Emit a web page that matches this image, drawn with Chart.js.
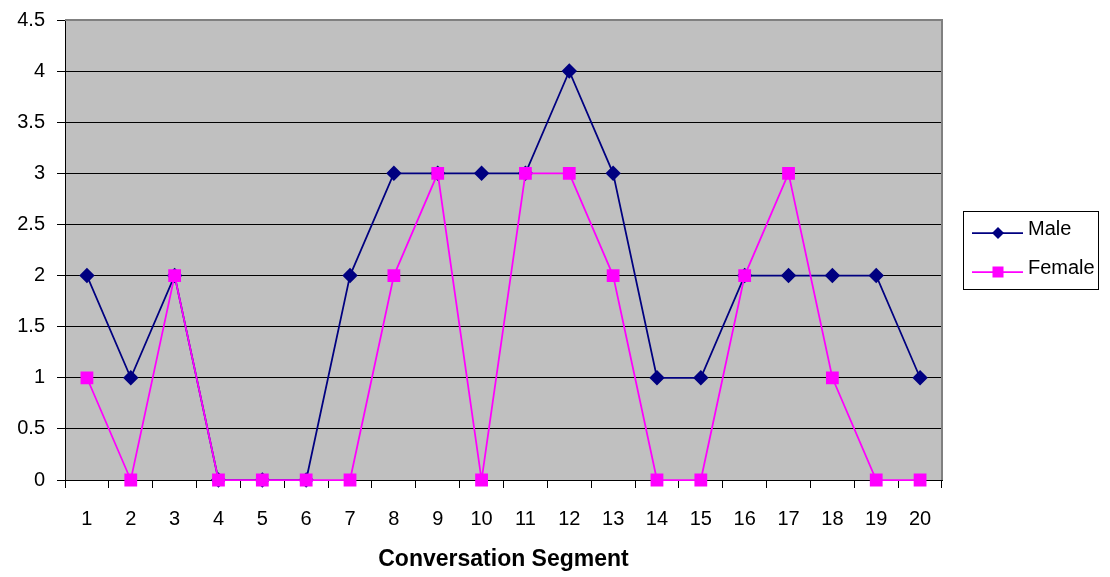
<!DOCTYPE html>
<html><head><meta charset="utf-8">
<script src="https://cdn.jsdelivr.net/npm/chart.js@4/dist/chart.umd.min.js"></script>
<style>html,body{margin:0;padding:0;background:#fff}#wrap{width:1110px;height:577px}</style>
</head><body><div id="wrap"><canvas id="c" width="1110" height="577"></canvas></div>
<script>
const categories = ['1','2','3','4','5','6','7','8','9','10','11','12','13','14','15','16','17','18','19','20'];
const maleValues = [2,1,2,0,0,0,2,3,3,3,3,4,3,1,1,2,2,2,2,1];
const femaleValues = [1,0,2,0,0,0,0,2,3,0,3,3,2,0,0,2,3,1,0,0];
const seriesNames = ['Male','Female'];
const xTitle = 'Conversation Segment';

const FONT = 'Arial, "Liberation Sans", sans-serif';

const bgPlugin = {
  id: 'bg',
  beforeDraw(chart) {
    const {ctx, chartArea: a} = chart;
    ctx.save();
    ctx.fillStyle = '#C0C0C0';
    ctx.fillRect(a.left, a.top, a.right - a.left, a.bottom - a.top);
    ctx.restore();
  },
  afterDraw(chart) {
    const {ctx, chartArea: a} = chart;
    ctx.save();
    ctx.strokeStyle = '#808080';
    ctx.lineWidth = 2;
    ctx.beginPath();
    ctx.moveTo(a.left, a.top); ctx.lineTo(a.right, a.top); ctx.lineTo(a.right, a.bottom);
    ctx.stroke();
    // legend
    const lx = 963.5, ly = 211.5, lw = 135, lh = 78;
    ctx.fillStyle = '#fff';
    ctx.fillRect(lx, ly, lw, lh);
    ctx.strokeStyle = '#000';
    ctx.lineWidth = 1;
    ctx.strokeRect(lx, ly, lw, lh);
    const items = [
      {name: seriesNames[0], color: '#000080', style: 'diamond', y: 233},
      {name: seriesNames[1], color: '#FF00FF', style: 'square', y: 272}
    ];
    items.forEach(it => {
      ctx.strokeStyle = it.color; ctx.lineWidth = 1.75;
      ctx.beginPath(); ctx.moveTo(972, it.y); ctx.lineTo(1023, it.y); ctx.stroke();
      ctx.fillStyle = it.color;
      const cx = 998;
      if (it.style === 'diamond') {
        ctx.beginPath(); ctx.moveTo(cx, it.y - 6); ctx.lineTo(cx + 6, it.y); ctx.lineTo(cx, it.y + 6); ctx.lineTo(cx - 6, it.y); ctx.closePath(); ctx.fill();
      } else {
        ctx.fillRect(cx - 5.5, it.y - 5.5, 11, 11);
      }
      ctx.fillStyle = '#000';
      ctx.font = '20px ' + FONT;
      ctx.textBaseline = 'middle';
      ctx.textAlign = 'left';
      ctx.fillText(it.name, 1028, it.y - 4);
    });
    ctx.restore();
  }
};

new Chart(document.getElementById('c'), {
  type: 'line',
  data: {
    labels: categories,
    datasets: [
      {label: seriesNames[0], data: maleValues, borderColor: '#000080', backgroundColor: '#000080', order: 1,
       borderWidth: 1.75, pointStyle: 'rectRot', pointRadius: 6.5, pointHoverRadius: 6.5, tension: 0, clip: false},
      {label: seriesNames[1], data: femaleValues, borderColor: '#FF00FF', backgroundColor: '#FF00FF', order: 0,
       borderWidth: 1.75, pointStyle: 'rect', pointRadius: 7.8, pointHoverRadius: 7.8, tension: 0, clip: false}
    ]
  },
  options: {
    responsive: false,
    animation: false,
    devicePixelRatio: 1,
    layout: {padding: {left: 0, right: 168, top: 20, bottom: 0}},
    plugins: {legend: {display: false}, tooltip: {enabled: false}},
    elements: {point: {borderWidth: 0}},
    scales: {
      x: {
        type: 'category',
        offset: true,
        grid: {offset: true, drawOnChartArea: false, drawTicks: true, tickLength: 8, color: '#000', lineWidth: 1},
        border: {display: true, color: '#000', width: 1},
        ticks: {color: '#000', font: {size: 20, family: FONT}, padding: 19, maxRotation: 0, autoSkip: false},
        title: {display: true, text: xTitle, color: '#000', font: {size: 23, weight: 'bold', family: FONT}, padding: {top: 10, bottom: 4}},
        afterFit(s) { s.height = 97; s.paddingLeft = 0; s.paddingRight = 0; }
      },
      y: {
        min: 0, max: 4.5,
        ticks: {stepSize: 0.5, color: '#000', font: {size: 20, family: FONT}, padding: 12,
                callback: v => String(v)},
        grid: {color: '#000', lineWidth: 1, tickLength: 8, drawTicks: true},
        border: {display: true, color: '#000', width: 1},
        afterFit(s) { s.width = 65; s.paddingTop = 0; s.paddingBottom = 0; }
      }
    }
  },
  plugins: [bgPlugin]
});
</script></body></html>
